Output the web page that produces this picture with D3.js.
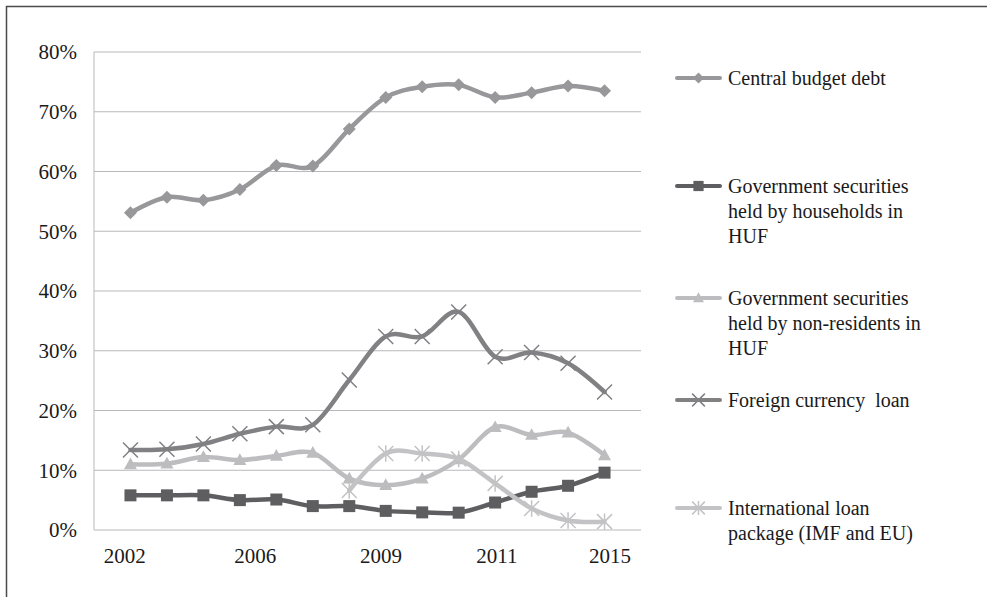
<!DOCTYPE html>
<html>
<head>
<meta charset="utf-8">
<script src="https://cdn.jsdelivr.net/npm/d3@7/dist/d3.min.js"></script>
<style>
  html, body { margin: 0; padding: 0; background: #fff; }
  svg { display: block; }
</style>
</head>
<body>
<svg id="chart" width="987" height="597"></svg>
<script>
// Years on the category axis
const years = [2002, 2003, 2004, 2005, 2006, 2007, 2008, 2009, 2010, 2011, 2012, 2013, 2014, 2015];

// Shares of debt, percent
const centralBudgetDebt = [53.1, 55.7, 55.2, 57.0, 61.0, 60.9, 67.1, 72.4, 74.2, 74.5, 72.4, 73.2, 74.3, 73.5];
const householdSecurities = [5.8, 5.8, 5.8, 5.0, 5.1, 4.0, 4.0, 3.2, 2.95, 2.9, 4.6, 6.4, 7.4, 9.6];
const nonResidentSecurities = [11.0, 11.1, 12.2, 11.7, 12.4, 12.9, 8.6, 7.5, 8.6, 11.8, 17.2, 15.9, 16.3, 12.5];
const foreignCurrencyLoan = [13.4, 13.5, 14.4, 16.1, 17.3, 17.6, 25.1, 32.4, 32.4, 36.5, 29.0, 29.7, 27.9, 23.1];
const internationalLoan = [null, null, null, null, null, null, 6.6, 12.8, 12.8, 11.9, 7.8, 3.6, 1.6, 1.4];

// Axis labels
const yTicks = [0, 10, 20, 30, 40, 50, 60, 70, 80];
const xTickLabels = ["2002", "2006", "2009", "2011", "2015"];
const xTickAt = [-0.16, 3.42, 6.87, 10.05, 13.15]; // in category-index units

const seriesNames = [
  ["Central budget debt"],
  ["Government securities", "held by households in", "HUF"],
  ["Government securities", "held by non-residents in", "HUF"],
  ["Foreign currency  loan"],
  ["International loan", "package (IMF and EU)"]
];

const series = [
  { values: centralBudgetDebt,    color: "#98989b", marker: "diamond" },
  { values: householdSecurities,  color: "#5e5e60", marker: "square" },
  { values: nonResidentSecurities,color: "#bdbdbf", marker: "triangle" },
  { values: foreignCurrencyLoan,  color: "#818184", marker: "x" },
  { values: internationalLoan,    color: "#c3c3c5", marker: "star" }
];

const FONT = "'Liberation Serif', 'Times New Roman', Times, 'DejaVu Serif', serif";
const INK = "#1a1a1a";

const svg = d3.select("#chart")
  .attr("font-family", FONT);
const W = 987, H = 597;
const plot = { left: 94, right: 641, top: 52, bottom: 530 };

svg.append("rect").attr("width", W).attr("height", H).attr("fill", "#fff");
// frame
svg.append("rect")
  .attr("x", 6.5).attr("y", 6.5).attr("width", W + 20).attr("height", H + 20)
  .attr("fill", "none").attr("stroke", "#4a4a4a").attr("stroke-width", 1.5);

const x = d3.scalePoint().domain(d3.range(years.length)).range([plot.left, plot.right]).padding(1);
const step = x.step();
const xi = i => plot.left + (i + 1) * step;
const y = d3.scaleLinear().domain([0, 80]).range([plot.bottom, plot.top]);

// gridlines
svg.append("g").selectAll("line").data(yTicks).join("line")
  .attr("x1", plot.left).attr("x2", plot.right)
  .attr("y1", d => y(d)).attr("y2", d => y(d))
  .attr("stroke", "#b9b9bd").attr("stroke-width", 1);
// y axis line
svg.append("line")
  .attr("x1", plot.left).attr("x2", plot.left)
  .attr("y1", plot.top).attr("y2", plot.bottom)
  .attr("stroke", "#b9b9bd").attr("stroke-width", 1);

// y labels
svg.append("g").selectAll("text").data(yTicks).join("text")
  .attr("x", 77).attr("y", d => y(d)).attr("dy", "0.35em")
  .attr("text-anchor", "end").attr("font-size", 21)
  .attr("font-family", FONT).attr("fill", INK)
  .text(d => d + "%");

// x labels
svg.append("g").selectAll("text").data(xTickLabels).join("text")
  .attr("x", (d, i) => xi(xTickAt[i])).attr("y", 556).attr("dy", "0.35em")
  .attr("text-anchor", "middle").attr("font-size", 21)
  .attr("font-family", FONT).attr("fill", INK)
  .text(d => d);

function drawMarker(g, type, cx, cy, color, s) {
  if (type === "diamond") {
    g.append("path").attr("d", `M${cx},${cy - s}L${cx + s},${cy}L${cx},${cy + s}L${cx - s},${cy}Z`).attr("fill", color);
  } else if (type === "square") {
    g.append("rect").attr("x", cx - s).attr("y", cy - s).attr("width", 2 * s).attr("height", 2 * s).attr("fill", color);
  } else if (type === "triangle") {
    g.append("path").attr("d", `M${cx},${cy - s * 1.05}L${cx + s},${cy + s * 0.75}L${cx - s},${cy + s * 0.75}Z`).attr("fill", color);
  } else if (type === "x") {
    g.append("path").attr("d", `M${cx - s},${cy - s}L${cx + s},${cy + s}M${cx - s},${cy + s}L${cx + s},${cy - s}`)
      .attr("stroke", color).attr("stroke-width", 1.5);
  } else if (type === "star") {
    g.append("path").attr("d", `M${cx - s},${cy - s}L${cx + s},${cy + s}M${cx - s},${cy + s}L${cx + s},${cy - s}M${cx},${cy - s * 1.1}L${cx},${cy + s * 1.1}`)
      .attr("stroke", color).attr("stroke-width", 1.5);
  }
}

const markerSize = { diamond: 6.5, square: 6, triangle: 6.5, x: 7.5, star: 7.5 };

series.forEach(s => {
  const g = svg.append("g");
  const pts = s.values.map((v, i) => ({ v, i })).filter(p => p.v != null);
  g.append("path")
    .attr("d", d3.line().x(p => x(p.i)).y(p => y(p.v)).curve(d3.curveCatmullRom.alpha(0))(pts))
    .attr("fill", "none").attr("stroke", s.color).attr("stroke-width", 4.5)
    .attr("stroke-linejoin", "round").attr("stroke-linecap", "round");
  pts.forEach(p => drawMarker(g, s.marker, x(p.i), y(p.v), s.color, markerSize[s.marker]));
});

// legend
const legendY = [78, 186, 298, 400, 508];
const lineH = 25;
series.forEach((s, k) => {
  const g = svg.append("g");
  const ly = legendY[k];
  g.append("line").attr("x1", 677).attr("x2", 720).attr("y1", ly).attr("y2", ly)
    .attr("stroke", s.color).attr("stroke-width", 4).attr("stroke-linecap", "round");
  drawMarker(g, s.marker, 698.5, ly, s.color, markerSize[s.marker] * 0.85);
  const t = g.append("text").attr("x", 728).attr("y", ly).attr("font-size", 20)
    .attr("font-family", FONT).attr("fill", INK).style("white-space", "pre");
  seriesNames[k].forEach((ln, j) => {
    t.append("tspan").attr("x", 728).attr("y", ly + j * lineH).attr("dy", "0.35em").text(ln);
  });
});
</script>
</body>
</html>
